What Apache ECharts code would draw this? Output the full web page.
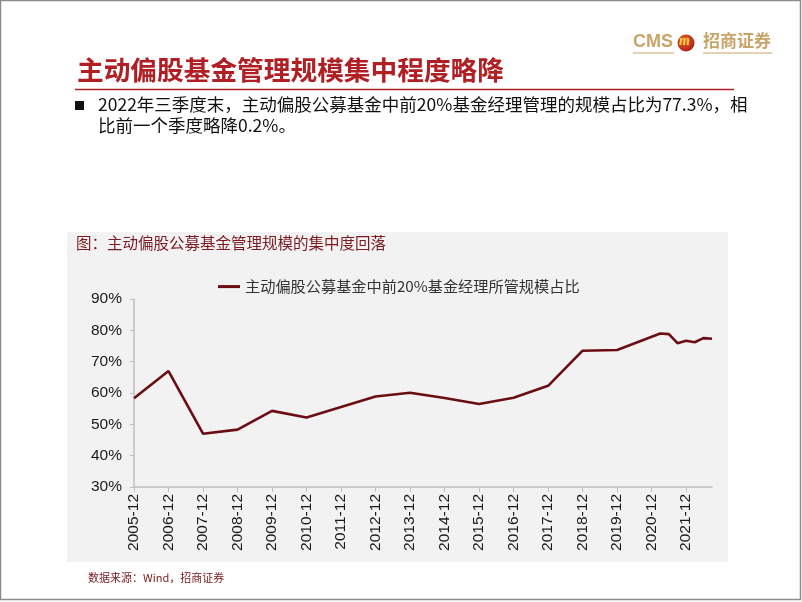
<!DOCTYPE html>
<html>
<head>
<meta charset="utf-8">
<script src="https://cdn.jsdelivr.net/npm/echarts@6/dist/echarts.min.js"></script>
<style>
  html, body { margin: 0; padding: 0; background: #fff; }
  #chart { width: 802px; height: 602px; }
</style>
</head>
<body>
<div id="chart"></div>
<script>
// data
const dates = ['2005-12', '2006-12', '2007-12', '2008-12', '2009-12', '2010-12', '2011-12',
  '2012-12', '2013-12', '2014-12', '2015-12', '2016-12', '2017-12', '2018-12', '2019-12',
  '2021-03', '2021-06', '2021-09', '2021-12', '2022-03', '2022-06', '2022-09']
const shares = [58.3, 67.0, 47.0, 48.3, 54.3, 52.2, 55.5,
  58.9, 60.1, 58.4, 56.5, 58.5, 62.3, 73.5, 73.7,
  79.0, 78.8, 75.9, 76.7, 76.2, 77.5, 77.3]
const yTicks = [30, 40, 50, 60, 70, 80, 90]
const seriesName = '主动偏股公募基金中前20%基金经理所管规模占比'

// quarterly category axis from 2005-12 to 2022-09
const quarters = []
for (let y = 2005; y <= 2022; y++) {
  for (const m of ['03', '06', '09', '12']) {
    const k = y + '-' + m
    if (k >= '2005-12' && k <= '2022-09') quarters.push(k)
  }
}

const chart = echarts.init(document.getElementById('chart'))
const red = '#b01f24'
const gold = '#c9a468'
const cjk = '"Noto Sans CJK SC", sans-serif'

const option = {
  backgroundColor: '#fff',
  animation: false,
  graphic: [
    // page border
    { type: 'rect', shape: { x: 0.5, y: 0.5, width: 800, height: 599 }, style: { fill: 'none', stroke: '#8c8c8c', lineWidth: 1.5 } },
    // logo
    { type: 'text', left: 633, top: 33, style: { text: 'CMS', fill: gold, font: 'bold 18px "Liberation Sans", Arial' } },
    { type: 'circle', shape: { cx: 686, cy: 43, r: 8.5 },
      style: { fill: { type: 'radial', x: 0.4, y: 0.35, r: 0.7, colorStops: [{ offset: 0, color: '#f06a2a' }, { offset: 1, color: '#a81a12' }] } } },
    { type: 'text', left: 679, top: 34, style: { text: 'm', fill: '#ffd34d', font: 'italic bold 14px "Liberation Serif", serif' } },
    { type: 'text', left: 703, top: 32, style: { text: '招商证券', fill: gold, font: 'bold 17px ' + cjk } },
    { type: 'line', shape: { x1: 633, y1: 53, x2: 674, y2: 53 }, style: { stroke: gold, lineWidth: 1 } },
    { type: 'line', shape: { x1: 703, y1: 53, x2: 772, y2: 53 }, style: { stroke: gold, lineWidth: 1 } },
    // heading
    { type: 'text', left: 77, top: 57, style: { text: '主动偏股基金管理规模集中程度略降', fill: red, font: 'bold 26.7px ' + cjk } },
    { type: 'line', shape: { x1: 75, y1: 89.5, x2: 734, y2: 89.5 }, style: { stroke: red, lineWidth: 1.5 } },
    // bullet text
    { type: 'rect', shape: { x: 75, y: 101, width: 9, height: 9 }, style: { fill: '#111' } },
    { type: 'text', left: 98, top: 96, style: { text: '2022年三季度末，主动偏股公募基金中前20%基金经理管理的规模占比为77.3%，相', fill: '#111', font: '17.5px ' + cjk } },
    { type: 'text', left: 98, top: 117, style: { text: '比前一个季度略降0.2%。', fill: '#111', font: '17.5px ' + cjk } },
    // chart panel
    { type: 'rect', z: -10, shape: { x: 67, y: 232, width: 661, height: 330 }, style: { fill: '#f2f2f2' } },
    { type: 'text', left: 76, top: 235, style: { text: '图：主动偏股公募基金管理规模的集中度回落', fill: '#7b1a1f', font: '15.5px ' + cjk } },
    // source
    { type: 'text', left: 88, top: 572, style: { text: '数据来源：Wind，招商证券', fill: '#7b1a1f', font: '11px ' + cjk } }
  ],
  legend: {
    left: 213,
    top: 274,
    icon: 'rect',
    itemWidth: 22,
    itemHeight: 3,
    textStyle: { color: '#333', fontSize: 15.2, fontFamily: cjk },
    data: [seriesName]
  },
  grid: { left: 134, right: 90, top: 299, bottom: 115 },
  xAxis: {
    type: 'category',
    data: quarters,
    boundaryGap: false,
    axisLine: { lineStyle: { color: '#bfbfbf', width: 1.5 } },
    axisTick: { show: true, length: 5, interval: (i, v) => v.endsWith('-12'), lineStyle: { color: '#bfbfbf' } },
    axisLabel: {
      rotate: 90,
      margin: 7,
      interval: (i, v) => v.endsWith('-12'),
      color: '#1a1a1a',
      fontSize: 15.5,
      fontFamily: '"Liberation Sans", Arial'
    }
  },
  yAxis: {
    type: 'value',
    min: yTicks[0],
    max: yTicks[yTicks.length - 1],
    interval: 10,
    axisLine: { show: true, lineStyle: { color: '#bfbfbf', width: 1.5 } },
    axisTick: { show: true, length: 4, lineStyle: { color: '#bfbfbf' } },
    splitLine: { show: false },
    axisLabel: {
      formatter: '{value}%',
      margin: 12,
      color: '#1a1a1a',
      fontSize: 15.5,
      fontFamily: '"Liberation Sans", Arial'
    }
  },
  series: [
    {
      name: seriesName,
      type: 'line',
      data: dates.map((d, i) => [d, shares[i]]),
      showSymbol: false,
      connectNulls: true,
      lineStyle: { color: '#6b0e14', width: 2.6 },
      itemStyle: { color: '#6b0e14' }
    }
  ]
}

chart.setOption(option)
</script>
</body>
</html>
